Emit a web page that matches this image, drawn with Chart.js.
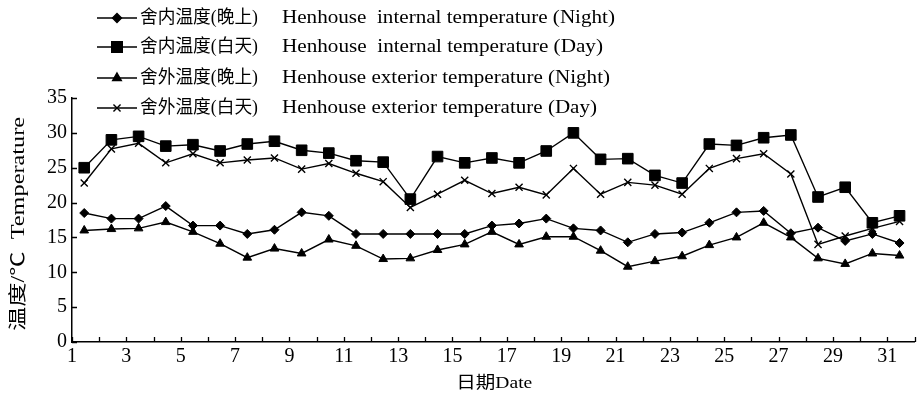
<!DOCTYPE html>
<html><head><meta charset="utf-8">
<script src="https://cdn.jsdelivr.net/npm/chart.js@4.4.0/dist/chart.umd.min.js"></script>
<style>html,body{margin:0;padding:0;background:#fff}#wrap{width:923px;height:402px;position:relative}</style>
</head><body><div id="wrap"><canvas id="c"></canvas></div>
<script>
const days = [1,2,3,4,5,6,7,8,9,10,11,12,13,14,15,16,17,18,19,20,21,22,23,24,25,26,27,28,29,30,31];
const insideNight = [18.5,17.7,17.7,19.5,16.7,16.7,15.5,16.1,18.6,18.1,15.5,15.5,15.5,15.5,15.5,16.7,17.0,17.7,16.3,16.0,14.3,15.5,15.7,17.1,18.6,18.8,15.6,16.4,14.5,15.5,14.2];
const insideDay = [25.0,29.0,29.5,28.1,28.3,27.4,28.4,28.8,27.5,27.1,26.0,25.8,20.5,26.6,25.7,26.4,25.7,27.4,30.0,26.2,26.3,23.9,22.8,28.4,28.2,29.3,29.7,20.8,22.2,17.1,18.1];
const outsideNight = [16.0,16.2,16.3,17.2,15.8,14.1,12.1,13.4,12.7,14.7,13.8,11.9,12.0,13.2,14.0,15.8,14.0,15.1,15.1,13.1,10.8,11.6,12.3,13.9,15.0,17.1,15.0,12.0,11.2,12.7,12.4];
const outsideDay = [22.8,27.7,28.5,25.7,27.0,25.7,26.1,26.4,24.8,25.6,24.2,23.0,19.3,21.2,23.2,21.3,22.2,21.1,24.9,21.2,22.9,22.5,21.2,24.9,26.3,27.0,24.1,14.0,15.2,16.3,17.3];
const xTickLabels = [1,3,5,7,9,11,13,15,17,19,21,23,25,27,29,31];
const yTickLabels = [0,5,10,15,20,25,30,35];
const labelsZh = ['舍内温度(晚上)','舍内温度(白天)','舍外温度(晚上)','舍外温度(白天)'];
const labelsEn = ['Henhouse  internal temperature (Night)','Henhouse  internal temperature (Day)','Henhouse exterior temperature (Night)','Henhouse exterior temperature (Day)'];
const xTitle = '日期Date';
const yTitle = '温度/℃  Temperature';

const SERIF = "'Liberation Serif','Noto Sans CJK SC',serif";
const OFFSET = 0.45;
function pts(vals){ return days.map((d,i)=>({x:d+OFFSET,y:vals[i]})); }
const styles = [
  {pointStyle:'rectRot', radius:4.5},
  {pointStyle:'rect', radius:7.5},
  {pointStyle:'triangle', radius:5},
  {pointStyle:'crossRot', radius:5}
];
const series = [insideNight, insideDay, outsideNight, outsideDay];
const datasets = series.map((s,i)=>({
  label: labelsZh[i]+' '+labelsEn[i],
  data: pts(s),
  borderColor:'#000', borderWidth:1.4, backgroundColor:'#000',
  pointStyle: styles[i].pointStyle, pointRadius: styles[i].radius, pointHoverRadius: styles[i].radius,
  pointBackgroundColor:'#000', pointBorderColor:'#000', pointBorderWidth: i===3?1.4:1,
  tension:0, fill:false
}));

function fillFit(ctx, text, x, y, w, align){
  const m = ctx.measureText(text).width;
  const k = w / m;
  ctx.save();
  ctx.translate(x, y);
  ctx.scale(k, 1);
  ctx.textAlign = align;
  ctx.fillText(text, 0, 0);
  ctx.restore();
}

const decor = {
  id:'decor',
  afterDraw(chart){
    const ctx = chart.ctx, xs = chart.scales.x, ys = chart.scales.y, a = chart.chartArea;
    ctx.save();
    ctx.strokeStyle = '#000'; ctx.lineWidth = 1.3;
    ctx.beginPath();
    for (let v = 1; v <= 32; v++) {
      const px = Math.round(xs.getPixelForValue(v)) + 0.5;
      ctx.moveTo(px, a.bottom); ctx.lineTo(px, a.bottom - 5);
    }
    yTickLabels.forEach(v => {
      const py = Math.round(ys.getPixelForValue(v)) + 0.5;
      ctx.moveTo(a.left, py); ctx.lineTo(a.left + 5, py);
    });
    ctx.stroke();
    // titles
    ctx.fillStyle = '#000';
    ctx.textBaseline = 'middle';
    ctx.font = "17px " + SERIF;
    fillFit(ctx, xTitle, (a.left + a.right) / 2 + 1, 384, 76, 'center');
    ctx.save();
    ctx.translate(19, 224); ctx.rotate(-Math.PI/2);
    ctx.font = "18px " + SERIF;
    fillFit(ctx, yTitle, 0, 0, 214, 'center');
    ctx.restore();
    // legend
    const rows = [18, 47, 78, 108];
    const enW = [333, 321, 328, 315];
    chart.data.datasets.forEach((ds, i) => {
      const y = rows[i];
      ctx.strokeStyle = '#000'; ctx.lineWidth = 1.4;
      ctx.beginPath(); ctx.moveTo(97, y); ctx.lineTo(137, y); ctx.stroke();
      ctx.fillStyle = '#000';
      Chart.helpers.drawPoint(ctx, {pointStyle: ds.pointStyle, radius: ds.pointRadius, rotation: 0, borderWidth: ds.pointBorderWidth}, 117, y);
      ctx.textBaseline = 'middle';
      ctx.font = "18px " + SERIF;
      fillFit(ctx, labelsZh[i], 140, y, 118, 'left');
      ctx.font = "19px " + SERIF;
      fillFit(ctx, labelsEn[i], 282, y, enW[i], 'left');
    });
    ctx.restore();
  }
};

new Chart(document.getElementById('c'), {
  type:'line',
  data:{datasets},
  options:{
    responsive:true, maintainAspectRatio:false, animation:false,
    layout:{padding:{left:0,right:1,top:98,bottom:0}},
    plugins:{legend:{display:false}, tooltip:{enabled:false}},
    scales:{
      x:{type:'linear', min:1, max:32,
        afterBuildTicks(s){ s.ticks = xTickLabels.map(v=>({value:v})); },
        afterFit(s){ s.height = 60; },
        grid:{display:false, drawTicks:false},
        border:{display:true, color:'#000', width:1.5},
        ticks:{autoSkip:false, maxRotation:0, padding:3, color:'#000', font:{family:SERIF, size:20}}
      },
      y:{type:'linear', min:0, max:35,
        afterBuildTicks(s){ s.ticks = yTickLabels.map(v=>({value:v})); },
        afterFit(s){ s.width = 72; },
        grid:{display:false, drawTicks:false},
        border:{display:true, color:'#000', width:1.5},
        ticks:{padding:5, color:'#000', font:{family:SERIF, size:20}}
      }
    }
  },
  plugins:[decor]
});
</script></body></html>
